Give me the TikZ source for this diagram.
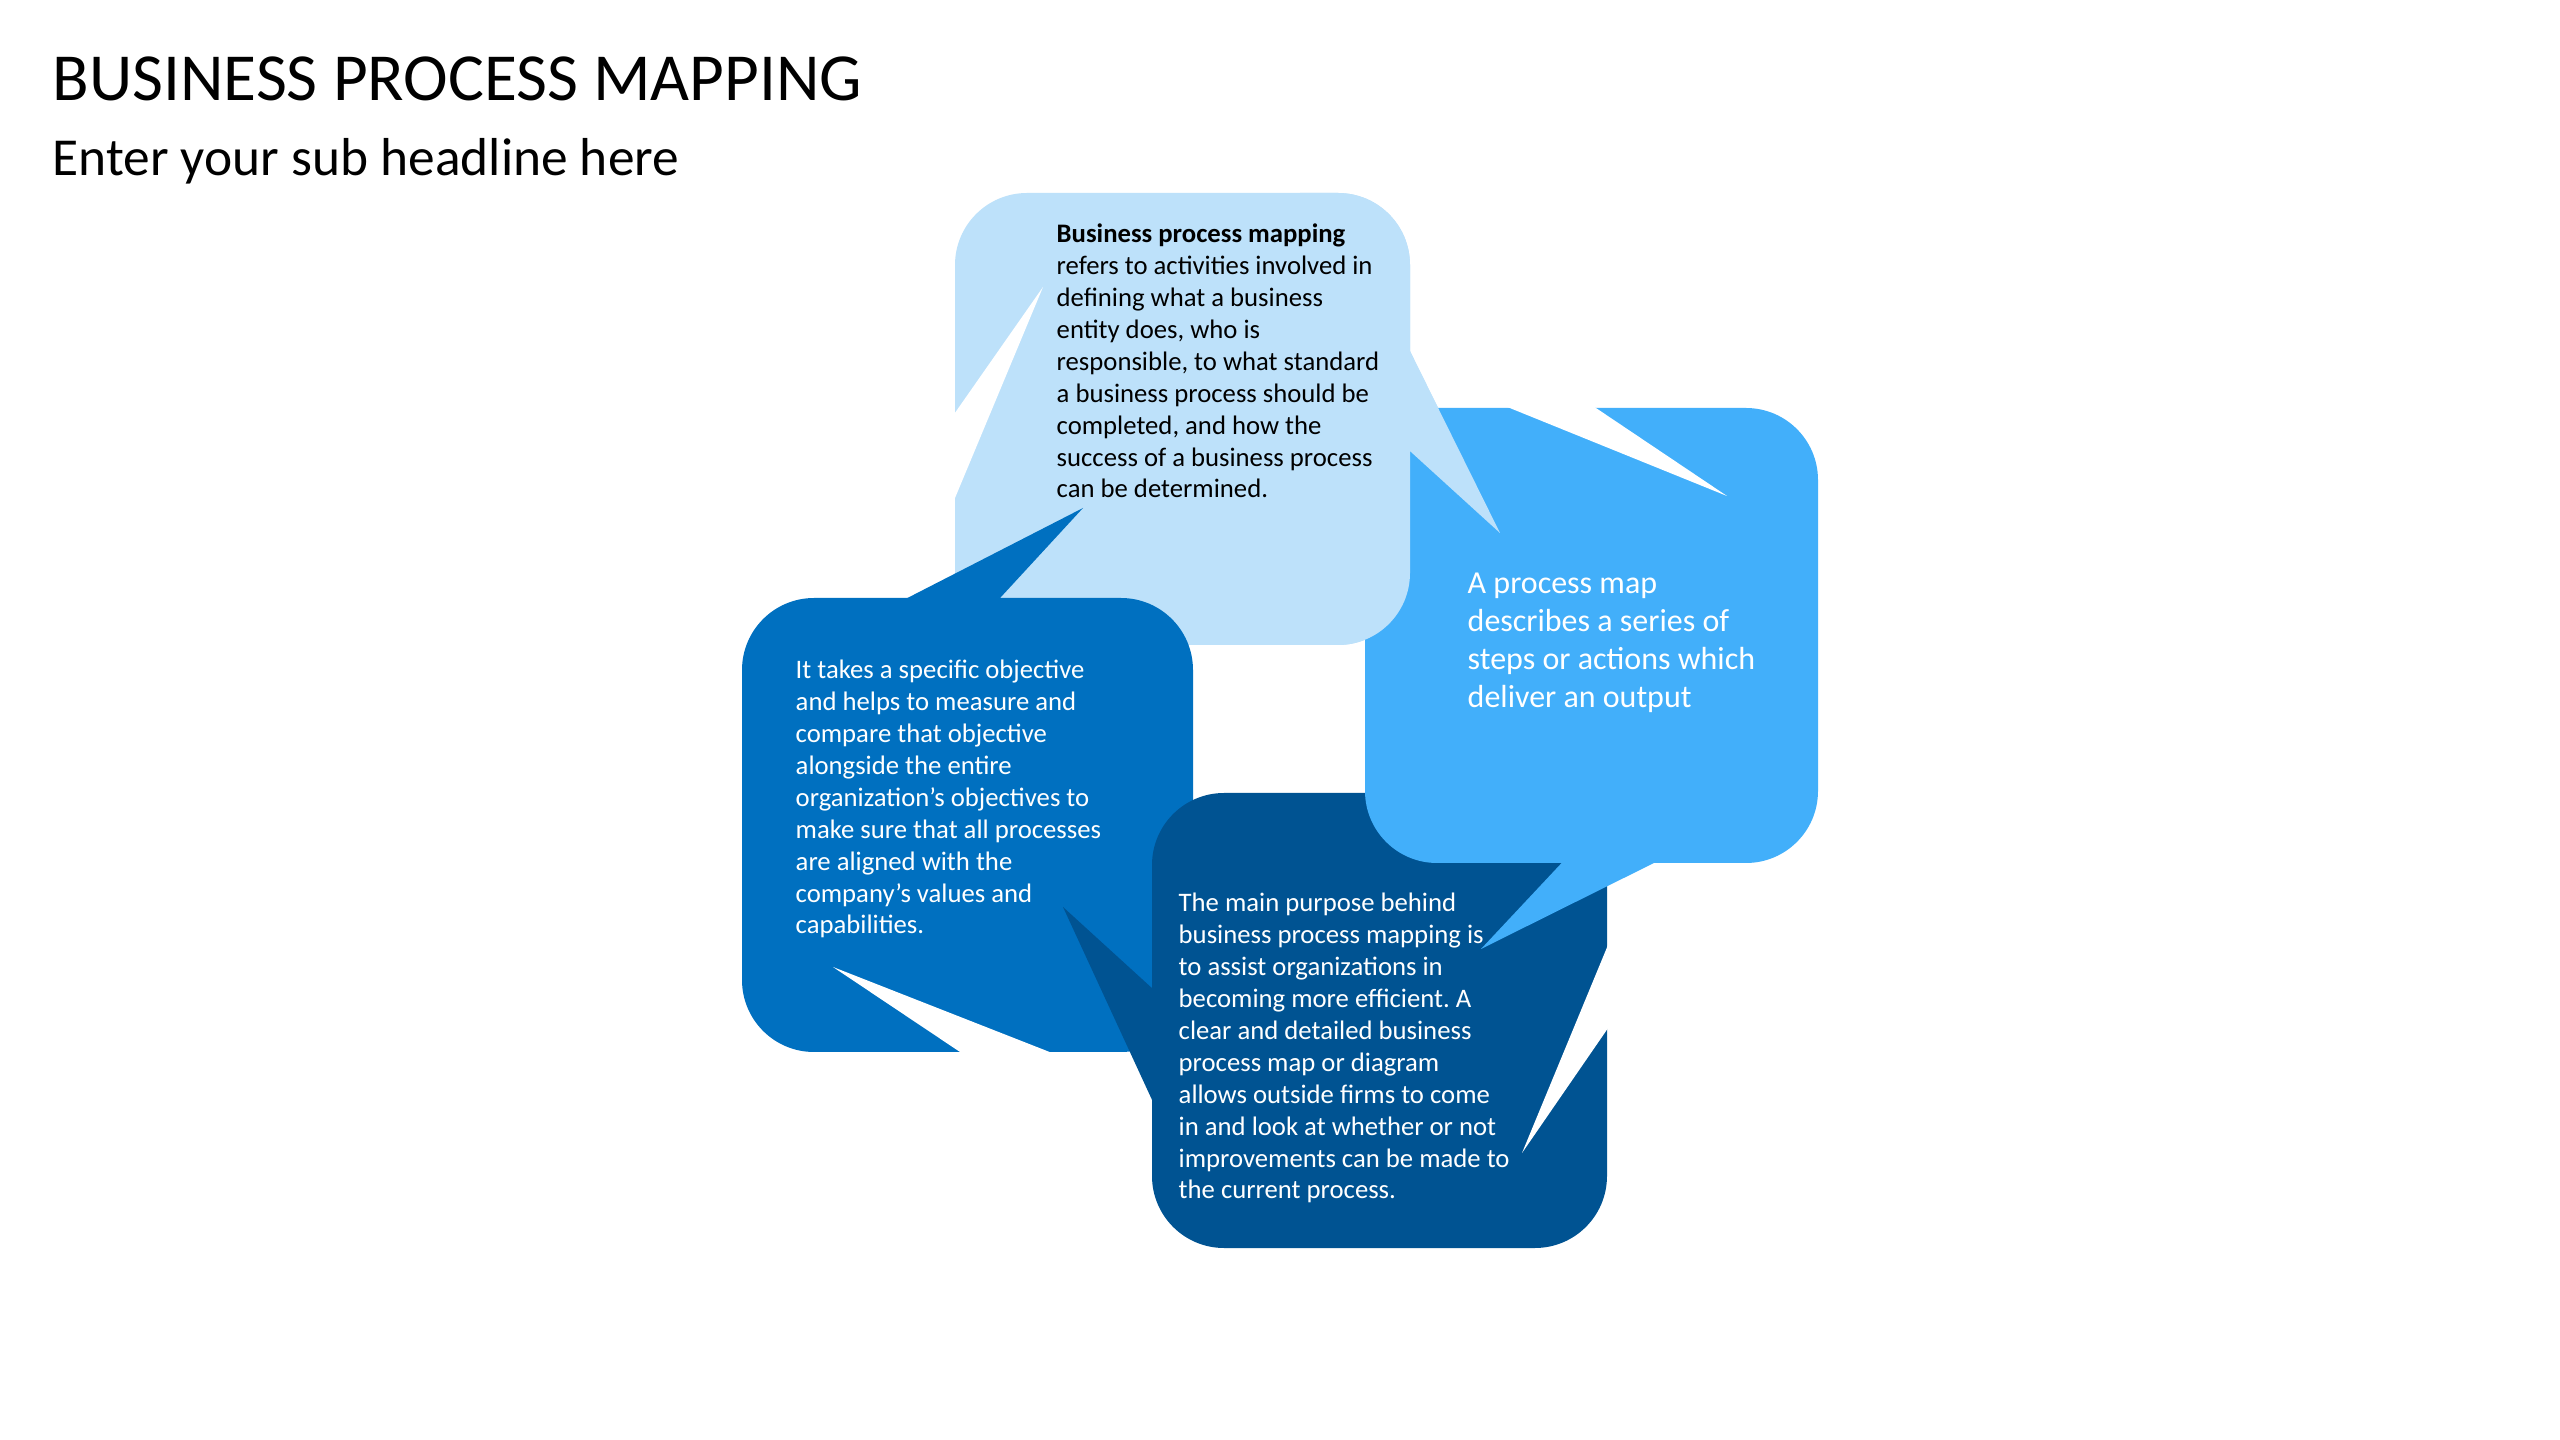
\documentclass[tikz,border=0pt]{standalone}
\usepackage{fontspec}
\setmainfont{Carlito}
\frenchspacing

\definecolor{paleblue}{RGB}{189,225,250}
\definecolor{skyblue}{RGB}{66,175,250}
\definecolor{midblue}{RGB}{0,112,192}
\definecolor{deepblue}{RGB}{0,83,146}

\tikzset{
  bubble/.style={rounded corners=7.2mm},
  bodytext/.style={anchor=base west, align=left, inner sep=0pt, text=white,
    font=\fontsize{7.6}{9.1}\selectfont},
}

% the pale bubble is drawn twice (it lies under the mid one and over the sky one)
\newcommand{\palebubble}{%
  \fill[paleblue,bubble] (955,193) rectangle (1410,645);
  \fill[paleblue] (1400,331) -- (1500,533) -- (1400,442) -- cycle;
}

\begin{document}
\begin{tikzpicture}[x=0.1mm,y=-0.1mm]
	\fill[white] (0,0) rectangle (2560,1440);
	\useasboundingbox (0,0) rectangle (2560,1440);
	% headings
	\node[anchor=base west, inner sep=0pt, font=\fontsize{19.15}{23}\selectfont] (title) at (52,101) {BUSINESS PROCESS MAPPING};
	\node[anchor=base west, inner sep=0pt, font=\fontsize{15.2}{18}\selectfont] (subtitle) at (52,176) {Enter your sub headline here};
	% pale bubble
	\palebubble
	\fill[white] (950,420) -- (1043,287) -- (950,510) -- cycle;
	% mid bubble
	\fill[midblue,bubble] (742,598) rectangle (1193,1052);
	\fill[midblue] (884,610) -- (1083,508) -- (989,610) -- cycle;
	\fill[white] (972,1060) -- (833,967) -- (1070,1060) -- cycle;
	% deep bubble
	\fill[deepblue,bubble] (1152,793) rectangle (1607,1248);
	\fill[deepblue] (1165,1000) -- (1063,907) -- (1165,1128) -- cycle;
	\fill[white] (1615,928) -- (1522,1153) -- (1615,1018) -- cycle;
	% sky bubble
	\fill[skyblue,bubble] (1365,408) rectangle (1818,863);
	\fill[skyblue] (1571,853) -- (1481,949) -- (1674,853) -- cycle;
	\fill[white] (1490,400) -- (1727,496) -- (1584,400) -- cycle;
	% pale bubble again, on top of the sky one
	\begin{scope}
		\clip (1300,150) rectangle (1600,700);
		\palebubble
	\end{scope}
	% texts (placed at the baseline of their last line)
	\node[bodytext, text=black] (paletext) at (1056,498) {\textbf{Business process mapping}\\refers to activities involved in\\defining what a business\\entity does, who is\\responsible, to what standard\\a business process should be\\completed, and how the\\success of a business process\\can be determined.};
	\node[bodytext] (midtext) at (795,934) {It takes a specific objective\\and helps to measure and\\compare that objective\\alongside the entire\\organization’s objectives to\\make sure that all processes\\are aligned with the\\company’s values and\\capabilities.};
	\node[bodytext] (deeptext) at (1178,1199) {The main purpose behind\\business process mapping is\\to assist organizations in\\becoming more efficient. A\\clear and detailed business\\process map or diagram\\allows outside firms to come\\in and look at whether or not\\improvements can be made to\\the current process.};
	\node[bodytext, font=\fontsize{9.1}{10.9}\selectfont] (skytext) at (1467,708) {A process map\\describes a series of\\steps or actions which\\deliver an output};
\end{tikzpicture}
\end{document}
